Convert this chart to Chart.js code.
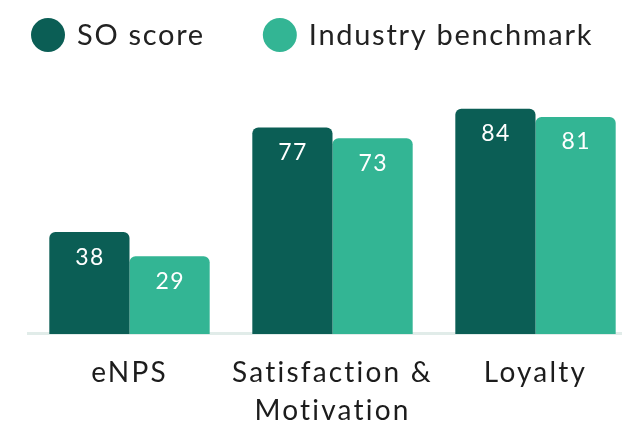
<!DOCTYPE html>
<html>
<head>
<meta charset="utf-8">
<script src="https://cdn.jsdelivr.net/npm/chart.js@4.4.1/dist/chart.umd.min.js"></script>
<style>
  html, body { margin: 0; padding: 0; background: #fff; overflow: hidden; }
  #wrap { position: absolute; left: 0; top: 0; width: 640px; height: 428px; }
</style>
</head>
<body>
<div id="wrap"><canvas id="c"></canvas></div>
<script>
const categories = ['eNPS', ['Satisfaction &', 'Motivation'], 'Loyalty'];
const soScore = [38, 77, 84];
const benchmark = [29, 73, 81];
const seriesNames = ['SO score', 'Industry benchmark'];
const seriesColors = ['#0b5e55', '#33b594'];

const FONT = 'Lato, "Noto Sans", sans-serif';

// global letter spacing so text widths match the reference
const spacing = {
  id: 'spacing',
  beforeUpdate(chart) { chart.ctx.letterSpacing = '2.2px'; },
  beforeDraw(chart) { chart.ctx.letterSpacing = '2.2px'; }
};

// custom legend drawn at top-left
const topLegend = {
  id: 'topLegend',
  afterDraw(chart) {
    const ctx = chart.ctx;
    ctx.save();
    ctx.letterSpacing = '1.7px';
    ctx.font = '29px ' + FONT;
    ctx.textBaseline = 'middle';
    ctx.textAlign = 'left';
    const cy = 35, r = 17;
    let x = 31;
    chart.data.datasets.forEach((ds) => {
      ctx.fillStyle = ds.backgroundColor;
      ctx.beginPath();
      ctx.arc(x + r, cy, r, 0, Math.PI * 2);
      ctx.fill();
      const tx = x + 2 * r + 12;
      ctx.fillStyle = '#222222';
      ctx.fillText(ds.label, tx, cy + 1);
      x = tx + ctx.measureText(ds.label).width + 58;
    });
    ctx.restore();
  }
};

const valueLabels = {
  id: 'valueLabels',
  afterDatasetsDraw(chart) {
    const ctx = chart.ctx;
    ctx.save();
    ctx.letterSpacing = '1.3px';
    ctx.fillStyle = '#ffffff';
    ctx.font = '23px ' + FONT;
    ctx.textAlign = 'center';
    ctx.textBaseline = 'middle';
    chart.data.datasets.forEach((ds, di) => {
      chart.getDatasetMeta(di).data.forEach((bar, i) => {
        ctx.fillText(String(ds.data[i]), bar.x + 0.6, bar.y + 25);
      });
    });
    ctx.restore();
  }
};

new Chart(document.getElementById('c'), {
  type: 'bar',
  data: {
    labels: categories,
    datasets: seriesNames.map((name, k) => ({
      label: name,
      data: k === 0 ? soScore : benchmark,
      backgroundColor: seriesColors[k],
      borderWidth: 0,
      borderRadius: { topLeft: 6, topRight: 6 },
      borderSkipped: 'bottom'
    }))
  },
  options: {
    responsive: true,
    maintainAspectRatio: false,
    animation: false,
    datasets: { bar: { categoryPercentage: 0.79, barPercentage: 1.0 } },
    layout: { padding: { left: 28, right: 3, top: 66, bottom: -22.6 } },
    plugins: {
      legend: { display: false },
      tooltip: { enabled: false }
    },
    scales: {
      x: {
        grid: { display: false, drawTicks: false },
        border: { display: true, color: '#e1ece9', width: 3 },
        ticks: {
          color: '#1c1c1c',
          font: { family: FONT, size: 28, lineHeight: 1.37 },
          padding: 20,
          maxRotation: 0,
          autoSkip: false
        }
      },
      y: { display: false, min: 0, max: 100 }
    }
  },
  plugins: [spacing, valueLabels, topLegend]
});
</script>
</body>
</html>
